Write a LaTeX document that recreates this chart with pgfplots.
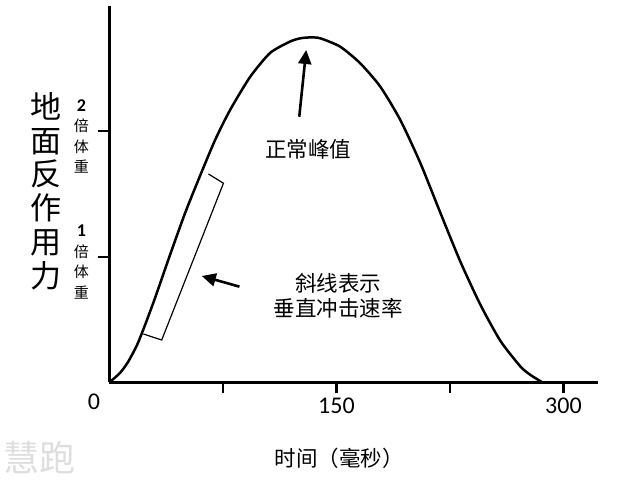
\documentclass[border=0pt]{standalone}
\usepackage{pgfplots}
\pgfplotsset{compat=1.18}
\usetikzlibrary{arrows.meta}
\usepackage{fontspec}
\setmainfont{Carlito}
\newfontfamily\cjk{Noto Sans CJK SC}

\begin{document}
\begin{tikzpicture}[x=1pt,y=1pt]
\path[use as bounding box] (-109.5,-97.7) rectangle (522.5,382.3);
\begin{axis}[
  at={(0,0)}, anchor=south west,
  scale only axis, width=488pt, height=376.5pt,
  xmin=0, xmax=322.5, ymin=0, ymax=3.0,
  axis x line=bottom, axis y line=left,
  axis line style={line width=2.6pt,-},
  clip=false,
  tick align=outside, major tick length=11pt,
  tick style={line width=2.2pt,black},
  xtick={75,150,225,300}, xticklabels={,150,,300},
  xticklabel style={font=\fontsize{24}{28}\selectfont, yshift=-1pt},
  ytick={1,2},
  yticklabels={{{\rmfamily\bfseries\fontsize{18}{18}\selectfont 1}\\倍\\体\\重},
               {{\rmfamily\bfseries\fontsize{18}{18}\selectfont 2}\\倍\\体\\重}},
  yticklabel style={align=center, font=\fontsize{15}{20.5}\selectfont\cjk,
                    yshift=-5pt, xshift=-6pt},
]
% ground reaction force curve
\addplot[line width=2.5pt, smooth, tension=0.4] coordinates {
  (0,0) (6.9,0.074) (12.2,0.161) (18.2,0.297) (23.5,0.457) (30.1,0.672)
  (40.0,1.015) (50.0,1.350) (59.9,1.647) (69.8,1.931) (79.7,2.170)
  (92.9,2.433) (106.1,2.624) (119.3,2.715) (126.1,2.741) (132.7,2.748)
  (139.3,2.741) (152.5,2.674) (165.7,2.542) (179.0,2.355) (192.2,2.090)
  (205.5,1.745) (218.7,1.349) (232.0,0.958) (245.2,0.616) (258.4,0.329)
  (271.7,0.124) (278.3,0.058) (286.0,0.0)
};
% bracket along the loading slope
\addplot[line width=1.2pt] coordinates {
  (65.4,1.660) (75.3,1.586) (34.5,0.337) (22.4,0.385)
};
\draw[line width=2.6pt, -{Triangle[length=14pt,width=13pt]}]
  (axis cs:125.4,2.116) -- (axis cs:130.0,2.648);
\draw[line width=2.6pt, -{Triangle[length=14pt,width=13pt]}]
  (axis cs:85.9,0.762) -- (axis cs:61.0,0.847);
\node[font=\fontsize{21.5}{25}\selectfont\cjk] at (axis cs:131.4,1.857) {正常峰值};
\node[font=\fontsize{21.5}{25}\selectfont\cjk, align=center] at (axis cs:151.2,0.688)
  {斜线表示\\垂直冲击速率};
\node[font=\fontsize{24}{28}\selectfont] at (axis cs:0,0) [xshift=-15.5pt, yshift=-19pt] {0};
\node[font=\fontsize{21.5}{24}\selectfont\cjk] at (axis cs:151.9,0) [yshift=-75.7pt] {时间（毫秒）};
\node[font=\fontsize{31}{33.8}\selectfont\cjk, align=center] at (axis cs:0,1.524) [xshift=-63.5pt]
  {地\\面\\反\\作\\用\\力};
\node[font=\fontsize{36}{36}\selectfont\cjk, text={rgb,255:red,222;green,222;blue,222}]
  at (axis cs:0,0) [xshift=-69.5pt, yshift=-75.7pt] {慧跑};
\end{axis}
\end{tikzpicture}
\end{document}
